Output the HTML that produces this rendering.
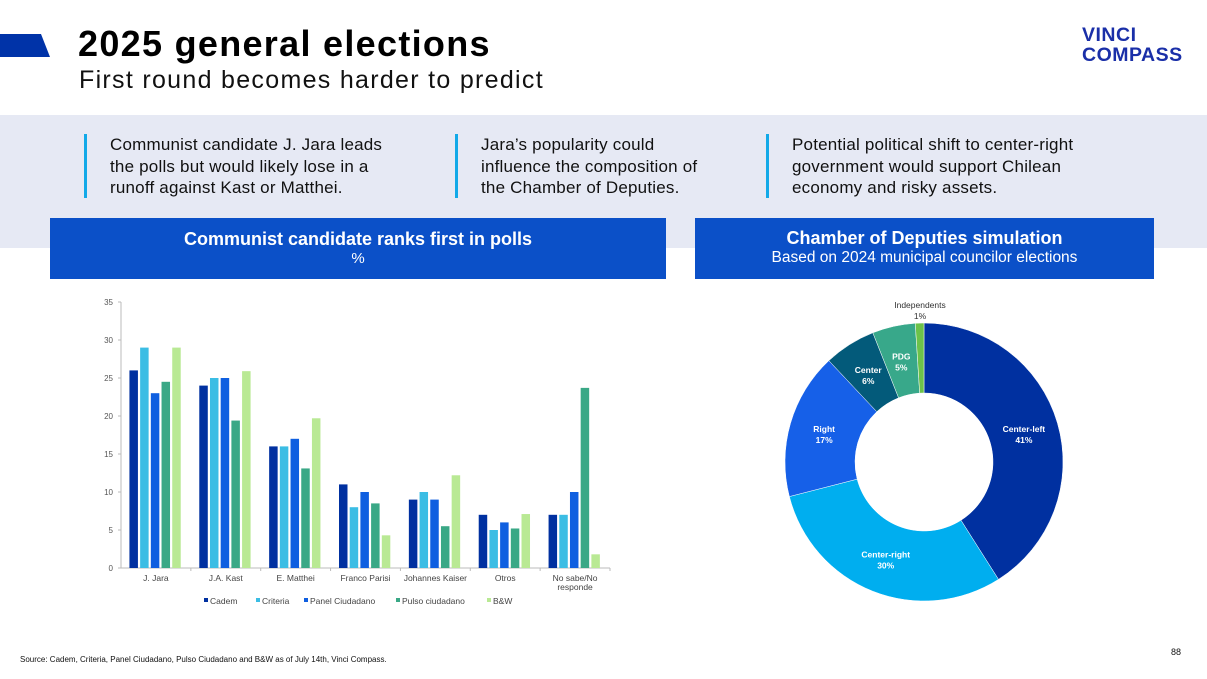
<!DOCTYPE html>
<html><head><meta charset="utf-8"><style>
body{margin:0;width:1207px;height:679px;position:relative;background:#fff;font-family:"Liberation Sans",sans-serif;overflow:hidden}
.abs{position:absolute}
.band{left:0;top:115px;width:1207px;height:133px;background:#e6e9f4}
.bul{font-size:17px;line-height:21.5px;color:#111;letter-spacing:0.2px}
.bar{width:3px;height:64px;background:#12a9e8}
.hdr{background:#0b50c8;color:#fff;text-align:center}
</style></head><body>
<div class="abs" style="left:0;top:34px;width:50px;height:23px;background:#0033a8;clip-path:polygon(0 0,41px 0,50px 100%,0 100%)"></div>
<div class="abs" style="left:78px;top:23px;font-size:36px;font-weight:bold;color:#000;letter-spacing:1.3px">2025 general elections</div>
<div class="abs" style="left:79px;top:66px;font-size:25px;color:#111;letter-spacing:1.3px">First round becomes harder to predict</div>
<div class="abs" style="left:1082px;top:25px;font-size:19.5px;font-weight:bold;line-height:20px;color:#1a2fa8;letter-spacing:0.5px">VINCI<br>COMPASS</div>
<div class="abs band"></div>
<div class="abs bar" style="left:84px;top:134px"></div>
<div class="abs bul" style="left:110px;top:134px">Communist candidate J. Jara leads<br>the polls but would likely lose in a<br>runoff against Kast or Matthei.</div>
<div class="abs bar" style="left:455px;top:134px"></div>
<div class="abs bul" style="left:481px;top:134px">Jara’s popularity could<br>influence the composition of<br>the Chamber of Deputies.</div>
<div class="abs bar" style="left:766px;top:134px"></div>
<div class="abs bul" style="left:792px;top:134px">Potential political shift to center-right<br>government would support Chilean<br>economy and risky assets.</div>
<div class="abs hdr" style="left:50px;top:218px;width:616px;height:61px">
<div style="font-size:18px;font-weight:bold;margin-top:11px">Communist candidate ranks first in polls</div><div style="font-size:15px">%</div></div>
<div class="abs hdr" style="left:695px;top:218px;width:459px;height:61px">
<div style="font-size:18px;font-weight:bold;margin-top:10px">Chamber of Deputies simulation</div><div style="font-size:15.5px">Based on 2024 municipal councilor elections</div></div>
<svg class="abs" style="left:0;top:0" width="1207" height="679" id="svg"></svg>
<div class="abs" style="left:20px;top:655px;font-size:8px;color:#111">Source: Cadem, Criteria, Panel Ciudadano, Pulso Ciudadano and B&amp;W as of July 14th, Vinci Compass.</div>
<div class="abs" style="left:1171px;top:647px;font-size:9px;color:#111">88</div>
<script>
const categories=["J. Jara","J.A.  Kast","E. Matthei","Franco Parisi","Johannes Kaiser","Otros","No sabe/No|responde"];
const seriesNames=["Cadem","Criteria","Panel Ciudadano","Pulso ciudadano","B&W"];
const cadem=[26,24,16,11,9,7,7];
const criteria=[29,25,16,8,10,5,7];
const panel=[23,25,17,10,9,6,10];
const pulso=[24.5,19.4,13.1,8.5,5.5,5.2,23.7];
const bw=[29,25.9,19.7,4.3,12.2,7.1,1.8];
const yTicks=[0,5,10,15,20,25,30,35];
const pieLabels=["Center-left","Center-right","Right","Center","PDG","Independents"];
const pieValues=[41,30,17,6,5,1];

const NS="http://www.w3.org/2000/svg",svg=document.getElementById('svg');
function mk(t,a,p){const e=document.createElementNS(NS,t);for(const k in a)e.setAttribute(k,a[k]);(p||svg).appendChild(e);return e;}
const colors=["#0030a0","#3bbde4","#0f5fe0","#3aa886","#b9e994"];
const series=[cadem,criteria,panel,pulso,bw];
const x0=121,x1=610,yb=568,yt=302,ymax=35;
const y=v=>yb-(v/ymax)*(yb-yt);
const cw=(x1-x0)/categories.length;
const xc=i=>x0+cw*(i+0.5);
let e=mk('line',{x1:x0,y1:yt,x2:x0,y2:yb,stroke:'#bbb'});

e=mk('line',{x1:x0,y1:yb,x2:x1,y2:yb,stroke:'#bbb'});

yTicks.forEach(t=>{
 const l=mk('text',{x:x0-8,y:y(t)+3,'font-size':8,'text-anchor':'end',fill:'#555'});l.textContent=t;
 
 mk('line',{x1:x0-3,y1:y(t),x2:x0,y2:y(t),stroke:'#bbb'});
});
categories.forEach((c,i)=>{
 mk('line',{x1:x0+cw*(i+1),y1:yb,x2:x0+cw*(i+1),y2:yb+3,stroke:'#bbb'});
 c.split('|').forEach((s,j)=>{const t=mk('text',{x:xc(i),y:yb+13+j*9,'font-size':8.5,'text-anchor':'middle',fill:'#444'});t.textContent=s;
 });
 series.forEach((s,k)=>{
  const bx=xc(i)-26.5+k*10.7;
  const r=mk('rect',{x:bx,y:y(s[i]),width:8.5,height:yb-y(s[i]),fill:colors[k]});
  
  
 });
});
const lx=[204,256,304,396,487];
seriesNames.forEach((n,k)=>{
 mk('rect',{x:lx[k],y:598,width:4,height:4,fill:colors[k]});
 const t=mk('text',{x:lx[k]+6,y:604,'font-size':8.5,fill:'#444'});t.textContent=n;
 
});
const pcolors=["#0030a0","#00aeef","#1660e8","#035a7a","#38a88a","#6cc24a"];
const cx=924,cy=462,R=139,r=69;
const tot=pieValues.reduce((a,b)=>a+b,0);
let a0=0;
pieValues.forEach((v,i)=>{
 const a1=a0+v/tot*2*Math.PI;
 const P=(rad,a)=>[cx+rad*Math.sin(a),cy-rad*Math.cos(a)];
 const [xa,ya]=P(R,a0),[xb,yb2]=P(R,a1),[xc2,yc]=P(r,a1),[xd,yd]=P(r,a0);
 const lg=(a1-a0)>Math.PI?1:0;
 const p=mk('path',{d:`M${xa},${ya}A${R},${R} 0 ${lg} 1 ${xb},${yb2}L${xc2},${yc}A${r},${r} 0 ${lg} 0 ${xd},${yd}Z`,fill:pcolors[i],stroke:'#fff','stroke-width':0.5});
 
 const am=(a0+a1)/2;
 let [tx,ty]=P(104,am),fill='#fff';
 if(i===5){tx=cx-4;ty=cy-R-14;fill='#333';}
 const t=mk('text',{x:tx,y:ty-1,'font-size':8.5,'text-anchor':'middle',fill:fill,'font-weight':i===5?'normal':'bold'});
 t.textContent=pieLabels[i];
 const t2=mk('text',{x:tx,y:ty+10,'font-size':8.5,'text-anchor':'middle',fill:fill,'font-weight':i===5?'normal':'bold'});
 t2.textContent=pieValues[i]+'%';
 a0=a1;
});
</script>
</body></html>
